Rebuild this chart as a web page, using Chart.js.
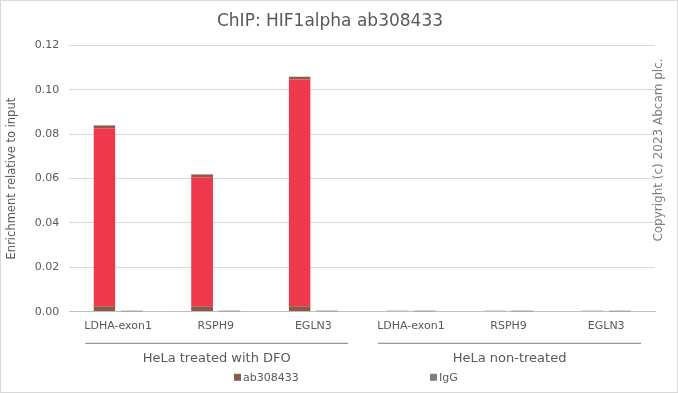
<!DOCTYPE html>
<html>
<head>
<meta charset="utf-8">
<script src="https://cdn.jsdelivr.net/npm/chart.js@4"></script>
<style>
  body { margin: 0; background: #fff; }
  #wrap { width: 678px; height: 393px; position: relative; box-sizing: border-box; border: 1px solid #d9d9d9; }
</style>
</head>
<body>
<div id="wrap"><canvas id="myChart"></canvas></div>
<script>
const categories = ["LDHA-exon1", "RSPH9", "EGLN3", "LDHA-exon1", "RSPH9", "EGLN3"]
const groups = ["HeLa treated with DFO", "HeLa non-treated"]
const groupSpans = [[0, 2], [3, 5]]
const seriesNames = ["ab308433", "IgG"]
const ab308433 = [0.084, 0.062, 0.106, 0.0006, 0.0006, 0.0006]
const igg = [0.0005, 0.0005, 0.0005, 0.0005, 0.0005, 0.0005]
const yTicks = [0, 0.02, 0.04, 0.06, 0.08, 0.10, 0.12]

const fontFamily = "'DejaVu Sans', sans-serif"
const textColor = "#595959"

// group brackets under the x axis, custom legend and copyright line
const extras = {
    id: "extras",
    afterDraw(chart) {
        const ctx = chart.ctx
        const x = chart.scales.x
        const area = chart.chartArea
        const half = (x.getPixelForValue(1) - x.getPixelForValue(0)) / 2
        ctx.save()
        groupSpans.forEach((span, i) => {
            const left = x.getPixelForValue(span[0]) - half + 16
            const right = x.getPixelForValue(span[1]) + half - 14
            ctx.strokeStyle = "#7f7f7f"
            ctx.lineWidth = 1
            ctx.beginPath()
            ctx.moveTo(left, area.bottom + 31.5)
            ctx.lineTo(right, area.bottom + 31.5)
            ctx.stroke()
            ctx.fillStyle = textColor
            ctx.font = "13px " + fontFamily
            ctx.textAlign = "center"
            ctx.textBaseline = "middle"
            ctx.fillText(groups[i], (left + right) / 2, area.bottom + 47)
        })

        // legend
        const legendX = [233, 429]
        chart.data.datasets.forEach((ds, i) => {
            ctx.fillStyle = ds.legendColor
            ctx.fillRect(legendX[i], area.bottom + 62, 7, 7)
            ctx.fillStyle = textColor
            ctx.font = "11px " + fontFamily
            ctx.textAlign = "left"
            ctx.textBaseline = "middle"
            ctx.fillText(ds.label, legendX[i] + 9, area.bottom + 66)
        })

        // copyright
        ctx.translate(658, 149)
        ctx.rotate(-Math.PI / 2)
        ctx.fillStyle = "#7f7f7f"
        ctx.font = "12px " + fontFamily
        ctx.textAlign = "center"
        ctx.textBaseline = "middle"
        ctx.fillText("Copyright (c) 2023 Abcam plc.", 0, 0)
        ctx.restore()
    }
}

const ctx = document.getElementById("myChart")
new Chart(ctx, {
    type: "bar",
    data: {
        labels: categories,
        datasets: [{
            label: seriesNames[0],
            data: ab308433,
            backgroundColor: "#f0384c",
            borderColor: "#8c5a46",
            borderWidth: { top: 3, bottom: 5, left: 0, right: 0 },
            borderSkipped: false,
            legendColor: "#8c5a46"
        }, {
            label: seriesNames[1],
            data: igg,
            backgroundColor: "#595959",
            borderWidth: 0,
            legendColor: "#7f7f7f"
        }]
    },
    options: {
        responsive: true,
        maintainAspectRatio: false,
        animation: false,
        categoryPercentage: 0.56,
        barPercentage: 0.8,
        layout: {
            padding: { left: 4, right: 22, top: 0, bottom: 51 }
        },
        plugins: {
            legend: { display: false },
            tooltip: { enabled: false },
            title: {
                display: true,
                text: "ChIP: HIF1alpha ab308433",
                color: textColor,
                font: { family: fontFamily, size: 17, weight: "normal" },
                padding: { top: 10, bottom: 14 }
            }
        },
        scales: {
            x: {
                grid: { display: false, drawTicks: false },
                border: { color: "#bfbfbf" },
                ticks: { color: textColor, font: { family: fontFamily, size: 11 }, padding: 8, maxRotation: 0, autoSkip: false }
            },
            y: {
                min: 0,
                max: 0.12,
                afterBuildTicks(axis) {
                    axis.ticks = yTicks.map(v => ({ value: v }))
                },
                grid: { color: "#d9d9d9", drawTicks: false },
                border: { display: false },
                ticks: {
                    color: textColor,
                    font: { family: fontFamily, size: 11 },
                    padding: 10,
                    callback: v => v.toFixed(2)
                },
                title: {
                    display: true,
                    text: "Enrichment relative to input",
                    color: textColor,
                    font: { family: fontFamily, size: 11.5 },
                    padding: { top: 0, bottom: 6 }
                }
            }
        }
    },
    plugins: [extras]
})
</script>
</body>
</html>
